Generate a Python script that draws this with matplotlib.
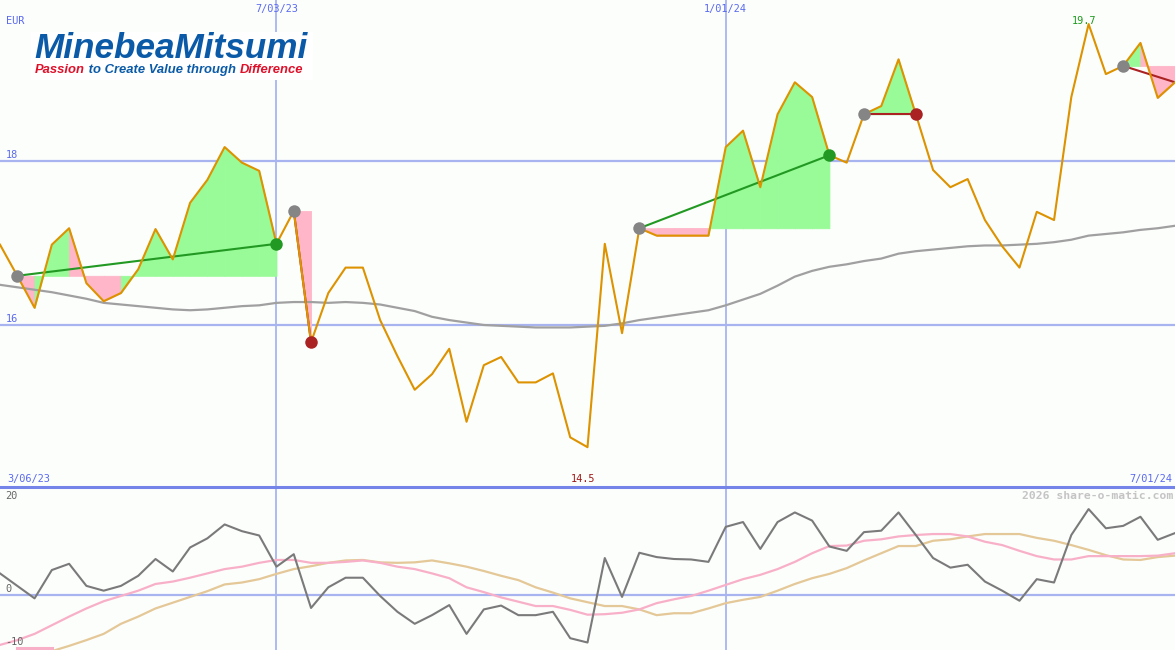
"""Weekly share price chart with trade signals and momentum panel."""

import matplotlib
import numpy as np

matplotlib.use("Agg")
import matplotlib.pyplot as plt
from matplotlib.lines import Line2D
from matplotlib.patches import Rectangle

W, H = 1175, 650

# weekly closes in EUR, 69 weeks (index 16 = 7/03/23, 42 = 1/01/24, 68 = 7/01/24)
price = [
    16.98, 16.60, 16.21, 16.98, 17.18, 16.51, 16.29, 16.39, 16.68, 17.17,
    16.80, 17.49, 17.77, 18.17, 17.98, 17.88, 16.99, 17.39, 15.79, 16.39,
    16.70, 16.70, 16.06, 15.62, 15.21, 15.40, 15.71, 14.82, 15.51, 15.61,
    15.30, 15.30, 15.41, 14.63, 14.51, 16.99, 15.90, 17.18, 17.09, 17.09,
    17.09, 17.09, 18.17, 18.37, 17.68, 18.57, 18.96, 18.78, 18.07, 17.98,
    18.57, 18.67, 19.24, 18.57, 17.89, 17.68, 17.78, 17.28, 16.96, 16.70,
    17.38, 17.28, 18.78, 19.67, 19.06, 19.16, 19.44, 18.77, 18.96,
]
moving_avg = [
    16.49, 16.46, 16.43, 16.40, 16.36, 16.32, 16.27, 16.25, 16.23, 16.21,
    16.19, 16.18, 16.19, 16.21, 16.23, 16.24, 16.27, 16.28, 16.28, 16.27,
    16.28, 16.27, 16.25, 16.21, 16.17, 16.10, 16.06, 16.03, 16.00, 15.99,
    15.98, 15.97, 15.97, 15.97, 15.98, 15.99, 16.02, 16.06, 16.09, 16.12,
    16.15, 16.18, 16.24, 16.31, 16.38, 16.48, 16.59, 16.66, 16.71, 16.74,
    16.78, 16.81, 16.87, 16.90, 16.92, 16.94, 16.96, 16.97, 16.97, 16.98,
    16.99, 17.01, 17.04, 17.09, 17.11, 17.13, 17.16, 17.18, 17.21,
]
momentum = [
    4.5, 1.9, -0.7, 5.2, 6.5, 1.9, 0.9, 1.9, 4.0, 7.5,
    4.9, 9.9, 11.8, 14.7, 13.3, 12.4, 5.9, 8.5, -2.7, 1.6,
    3.6, 3.6, -0.2, -3.5, -6.0, -4.2, -2.1, -8.1, -3.0, -2.2,
    -4.2, -4.2, -3.5, -9.0, -9.9, 7.7, -0.4, 8.8, 7.9, 7.5,
    7.4, 6.9, 14.2, 15.2, 9.6, 15.2, 17.2, 15.5, 10.1, 9.2,
    13.1, 13.4, 17.2, 12.5, 7.7, 5.7, 6.3, 2.8, 0.9, -1.2,
    3.3, 2.6, 12.5, 17.9, 13.9, 14.4, 16.3, 11.5, 12.9,
]
signal_fast = [
    -10.4, -9.4, -8.1, -6.3, -4.5, -2.8, -1.3, -0.2, 0.9, 2.3,
    2.8, 3.6, 4.5, 5.4, 5.9, 6.7, 7.3, 7.3, 6.7, 6.7,
    6.9, 7.2, 6.7, 5.9, 5.4, 4.5, 3.5, 1.6, 0.6, -0.5,
    -1.4, -2.3, -2.3, -3.1, -4.1, -4.0, -3.7, -3.0, -1.7, -0.9,
    -0.2, 0.9, 2.1, 3.3, 4.2, 5.4, 6.9, 8.7, 10.2, 10.3,
    11.3, 11.6, 12.2, 12.5, 12.7, 12.7, 12.2, 11.1, 10.4, 9.2,
    8.1, 7.4, 7.4, 8.1, 8.1, 8.1, 8.1, 8.2, 8.7,
]
signal_slow = [
    -14.5, -13.5, -12.6, -11.7, -10.6, -9.4, -8.1, -6.0, -4.5, -2.8,
    -1.6, -0.4, 0.8, 2.2, 2.6, 3.3, 4.4, 5.4, 6.0, 6.7,
    7.2, 7.3, 6.8, 6.7, 6.8, 7.2, 6.6, 5.9, 5.0, 4.0,
    3.1, 1.6, 0.5, -0.7, -1.5, -2.3, -2.3, -3.0, -4.2, -3.8,
    -3.8, -2.8, -1.7, -1.0, -0.4, 0.9, 2.3, 3.5, 4.4, 5.6,
    7.2, 8.7, 10.2, 10.2, 11.3, 11.6, 12.2, 12.7, 12.7, 12.7,
    11.9, 11.3, 10.4, 9.4, 8.3, 7.4, 7.3, 7.9, 8.2,
]

# trades: entry week, exit week (None = still open)
trade_entry = [1, 17, 37, 50, 65]
trade_exit = [16, 18, 48, 53, None]

date_ticks = [16, 42]
date_labels = ["7/03/23", "1/01/24"]
price_grid = [18, 16]

BG = "#fcfefc"
GRID = "#a8b4f0"
BLUE_TXT = "#5a6af0"
ORANGE = "#dd9200"
GAIN_FILL = "#98fb98"
LOSS_FILL = "#ffb6c8"
GREEN = "#229922"
RED = "#aa2222"
MONO = "DejaVu Sans Mono"


def fpos(x, y):
    return x / W, 1 - y / H


weeks = np.arange(len(price))
price_arr = np.array(price)

fig = plt.figure(figsize=(W / 100, H / 100), dpi=100, facecolor=BG)
ax = fig.add_axes([0, 163 / H, 1, 487 / H])
ax2 = fig.add_axes([0, 0, 1, 163 / H])
for a in (ax, ax2):
    a.axis("off")
    a.set_xlim(0, len(price) - 1)

ax.set_ylim(18 - (487 - 161) / 82, 18 + 161 / 82)
ax2.set_ylim(-55 / 4.8, 108 / 4.8)

# grid
for level in price_grid:
    ax.axhline(level, color=GRID, lw=1.6, zorder=0)
for wk in date_ticks:
    ax.axvline(wk, color=GRID, lw=1.3, zorder=0)
    ax2.axvline(wk, color=GRID, lw=1.3, zorder=0)
ax2.axhline(0, color=GRID, lw=1.6, zorder=0)
fig.add_artist(Line2D([0, 1], [163 / H, 163 / H], color="#7484e8", lw=2.2))

# trade fills, coloured by where each segment ends
for start, end in zip(trade_entry, trade_exit):
    stop = end if end is not None else len(price) - 1
    level = price[start]
    for j in range(start, stop):
        seg_y = price_arr[j:j + 2]
        color = GAIN_FILL if seg_y[1] >= level else LOSS_FILL
        ax.fill_between(weeks[j:j + 2], seg_y, level, facecolor=color, edgecolor=color,
                        lw=0.6, zorder=1)

ax.plot(weeks, moving_avg, color="#a0a0a0", lw=1.6, zorder=2)

for start, end in zip(trade_entry, trade_exit):
    stop = end if end is not None else len(price) - 1
    color = GREEN if price[stop] > price[start] else RED
    ax.plot([start, stop], [price[start], price[stop]], color=color, lw=1.5, zorder=2.5)

ax.plot(weeks, price, color=ORANGE, lw=1.5, zorder=3)

for start, end in zip(trade_entry, trade_exit):
    ax.plot(start, price[start], "o", color="#858585", ms=9, mec="none", zorder=5)
    if end is not None:
        color = GREEN if price[end] > price[start] else RED
        ax.plot(end, price[end], "o", color=color, ms=9, mec="none", zorder=5)

# momentum panel
ax2.plot(weeks, signal_slow, color="#e4c898", lw=1.6, zorder=2)
ax2.plot(weeks, signal_fast, color="#f8b0c8", lw=1.6, zorder=2)
ax2.plot(weeks, momentum, color="#7a7a7a", lw=1.5, zorder=3)
ax2.plot([1, 3], [-11.1, -11.1], color="#f8b0c8", lw=2.2, zorder=2)

# labels
small = dict(family=MONO, fontsize=7.4)
fig.text(*fpos(6, 21), "EUR", color=BLUE_TXT, va="center", **small)
for level in price_grid:
    y = 161 - (level - 18) * 82
    fig.text(*fpos(6, y - 6), f"{level}", color=BLUE_TXT, va="center", **small)
for wk, lab in zip(date_ticks, date_labels):
    fig.text(*fpos(wk * W / (len(price) - 1), 9), lab, color=BLUE_TXT, ha="center", va="center", **small)
fig.text(*fpos(7, 479), "3/06/23", color=BLUE_TXT, va="center", **small)
fig.text(*fpos(1172, 479), "7/01/24", color=BLUE_TXT, ha="right", va="center", **small)
fig.text(*fpos(583, 479), f"{min(price):.1f}", color="#a01818", ha="center", va="center", **small)
fig.text(*fpos(1084, 21), f"{max(price):.1f}", color="#1f9a1f", ha="center", va="center", **small)
for val, y in [(20, 496), (0, 589), (-10, 642)]:
    fig.text(*fpos(5, y), f"{val}", color="#666666", va="center", **small)
fig.text(*fpos(1173, 496), "2026 share-o-matic.com", color="#c4c4c4", ha="right", va="center",
         family=MONO, fontsize=8.2, fontweight="bold")

# logo
fig.add_artist(Rectangle(fpos(31, 80), 282 / W, 48 / H, transform=fig.transFigure,
                         facecolor="white", edgecolor="none"))
fig.text(*fpos(34, 48), "MinebeaMitsumi", color="#0a5aa8", va="center", ha="left",
         family="Liberation Sans", fontsize=25.3, fontweight="bold", fontstyle="italic")
renderer = fig.canvas.get_renderer()
x = 35
for part, color in [("Passion", "#e0102a"), (" to Create Value through ", "#0a5aa8"), ("Difference", "#e0102a")]:
    t = fig.text(*fpos(x, 70), part, color=color, va="center", ha="left",
                 family="Liberation Sans", fontsize=9.4, fontweight="bold", fontstyle="italic")
    x += t.get_window_extent(renderer).width

fig.savefig("out.png", dpi=100, facecolor=BG)
